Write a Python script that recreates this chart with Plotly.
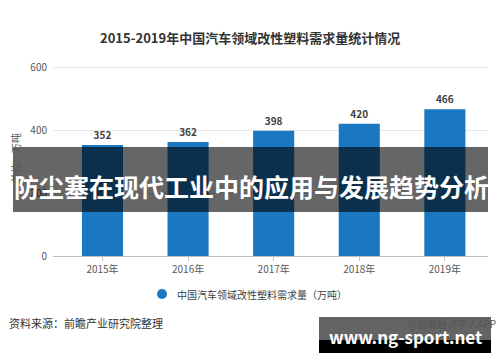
import plotly.graph_objects as go

years = ["2015年", "2016年", "2017年", "2018年", "2019年"]
demand = [352, 362, 398, 420, 466]
y_ticks = [0, 200, 400, 600]

W, H = 500, 362
def px(x):
    return x / W
def py(y):
    return 1 - y / H

FONT = "Noto Sans CJK SC, Noto Sans, sans-serif"
BLUE = "#1a78c2"

fig = go.Figure()
fig.add_trace(go.Bar(
    x=years, y=demand, width=0.48, marker=dict(color=BLUE, line=dict(width=0)),
    text=demand, texttemplate="<b>%{text}</b>", textposition="outside",
    textfont=dict(size=10, color="#404040", family=FONT), cliponaxis=False,
    showlegend=False,
))

fig.update_layout(
    width=W, height=H, margin=dict(l=0, r=0, t=0, b=0),
    paper_bgcolor="white", plot_bgcolor="white",
    font=dict(family=FONT, color="#595959", size=10),
    xaxis=dict(domain=[px(53), px(488)], range=[-0.578, 4.504], type="category",
               showline=True, linecolor="#bfbfbf", linewidth=1,
               ticks="outside", ticklen=4, tickcolor="#bfbfbf",
               tickfont=dict(size=10, color="#595959"), showgrid=False, automargin=False),
    yaxis=dict(domain=[py(256), py(60.7)], range=[0, 620], tickvals=y_ticks,
               showgrid=True, gridcolor="#e6e6e6", gridwidth=1, zeroline=False,
               showline=False, ticks="", tickfont=dict(size=10, color="#595959"),
               ticklabelstandoff=5, automargin=False),
    bargap=0.52,
)

ann = []
ann.append(dict(text="<b>2015-2019年中国汽车领域改性塑料需求量统计情况</b>", x=px(250), y=py(37),
                xref="paper", yref="paper", showarrow=False, xanchor="center", yanchor="middle",
                font=dict(size=13, color="#333333", family=FONT)))
ann.append(dict(text="单位：万吨", x=px(15), y=py(158), xref="paper", yref="paper", showarrow=False,
                textangle=-90, xanchor="center", yanchor="middle",
                font=dict(size=10, color="#555555", family=FONT)))
ann.append(dict(text="中国汽车领域改性塑料需求量（万吨）", x=px(175), y=py(294), xref="paper", yref="paper",
                showarrow=False, xanchor="left", yanchor="middle",
                font=dict(size=10, color="#404040", family=FONT)))
ann.append(dict(text="资料来源：前瞻产业研究院整理", x=px(7), y=py(323), xref="paper", yref="paper",
                showarrow=False, xanchor="left", yanchor="middle",
                font=dict(size=11, color="#333333", family=FONT)))
ann.append(dict(text="@前瞻经济学人APP", x=px(406), y=py(323), xref="paper", yref="paper",
                showarrow=False, xanchor="left", yanchor="middle",
                font=dict(size=10, color="#555555", family=FONT)))
ann.append(dict(text="<b>防尘塞在现代工业中的应用与发展趋势分析</b>", x=px(251), y=py(185.5), xref="paper", yref="paper",
                showarrow=False, xanchor="center", yanchor="middle",
                font=dict(size=25, color="white", family=FONT)))
ann.append(dict(text="<b>www.ng-sport.net</b>", x=px(405), y=py(336), xref="paper", yref="paper",
                showarrow=False, xanchor="center", yanchor="middle",
                font=dict(size=17, color="white", family=FONT)))
fig.update_layout(annotations=ann)

shapes = []
shapes.append(dict(type="circle", xref="paper", yref="paper", x0=px(157), x1=px(167), y0=py(289), y1=py(299),
                   fillcolor=BLUE, line=dict(width=0)))
shapes.append(dict(type="rect", xref="paper", yref="paper", x0=px(13), x1=px(488), y0=py(147), y1=py(212),
                   fillcolor="rgba(0,0,0,0.6)", line=dict(width=0), layer="above"))
shapes.append(dict(type="rect", xref="paper", yref="paper", x0=px(319), x1=px(491), y0=py(317), y1=py(340),
                   fillcolor="rgba(40,40,40,0.72)", line=dict(width=0), layer="above"))
shapes.append(dict(type="rect", xref="paper", yref="paper", x0=px(319), x1=px(491), y0=py(340), y1=py(353),
                   fillcolor="black", line=dict(width=0), layer="above"))
fig.update_layout(shapes=shapes)

fig.write_html("out.html", config={"displayModeBar": False},
               post_script="document.body.style.margin='0';document.body.style.overflow='hidden';")
